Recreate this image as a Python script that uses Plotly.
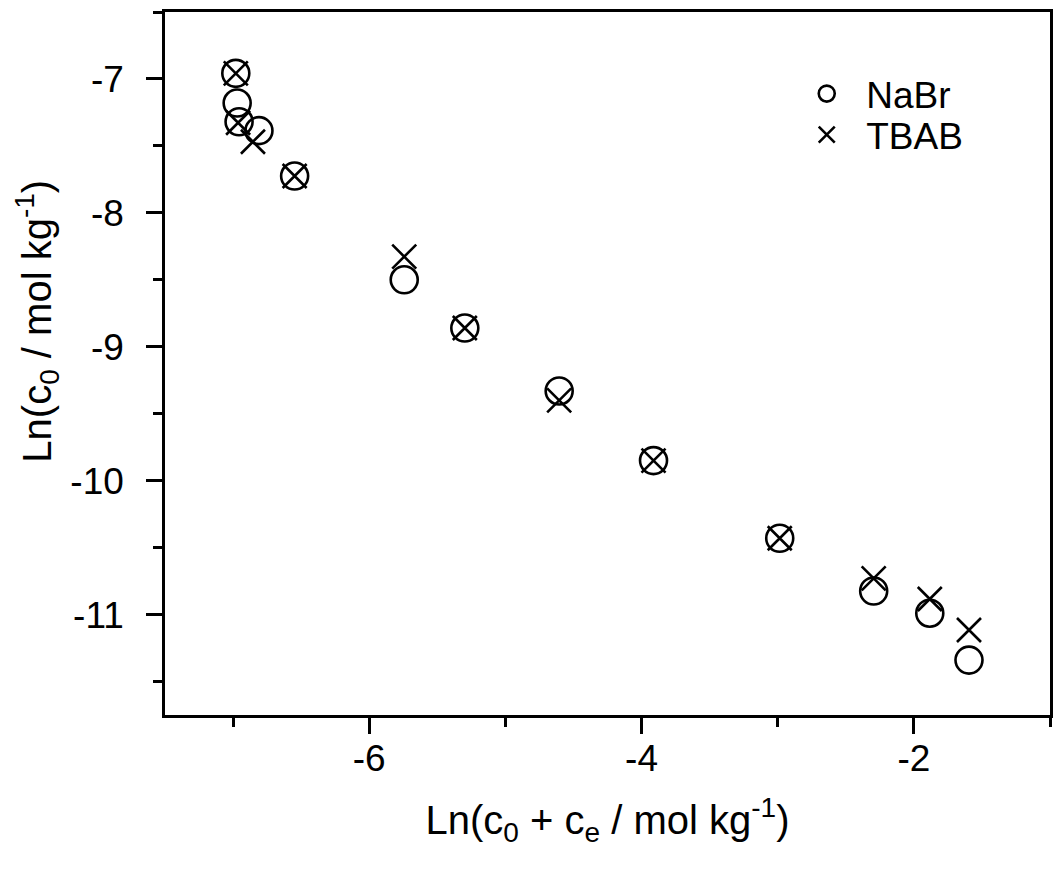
import plotly.graph_objects as go

# ---- data ----
nabr_x = [-6.98, -6.97, -6.956, -6.81, -6.548, -5.743, -5.298, -4.605, -3.912, -2.985, -2.295, -1.883, -1.595]
nabr_y = [-6.958, -7.18, -7.32, -7.386, -7.725, -8.50, -8.86, -9.33, -9.85, -10.43, -10.824, -10.99, -11.34]

tbab_x = [-6.98, -6.963, -6.854, -6.548, -5.743, -5.298, -4.605, -3.912, -2.985, -2.295, -1.883, -1.595]
tbab_y = [-6.958, -7.327, -7.469, -7.725, -8.327, -8.86, -9.40, -9.85, -10.43, -10.73, -10.884, -11.115]

x_tickvals = [-6, -4, -2]
x_ticktext = ["-6", "-4", "-2"]
y_tickvals = [-7, -8, -9, -10, -11]
y_ticktext = ["-7", "-8", "-9", "-10", "-11"]

x_title = "Ln(c<sub>0</sub> + c<sub>e</sub> / mol kg<sup>-1</sup>)"
y_title = "Ln(c<sub>0</sub> / mol kg<sup>-1</sup>)"

FONT = "Arial, Liberation Sans, sans-serif"

fig = go.Figure()
fig.add_trace(go.Scatter(
    x=nabr_x, y=nabr_y, mode="markers", name="NaBr", legend="legend",
    marker=dict(symbol="circle-open", size=27, color="black",
                line=dict(width=2.6, color="black")),
))
fig.add_trace(go.Scatter(
    x=tbab_x, y=tbab_y, mode="markers", name="TBAB", legend="legend2",
    marker=dict(symbol="x-thin-open", size=24, color="black",
                line=dict(width=2.6, color="black")),
))

axis_common = dict(
    showgrid=False, zeroline=False, showline=True, linecolor="black",
    linewidth=2.5, mirror=True, ticks="outside", tickwidth=2.5,
    tickcolor="black", ticklen=16,
    tickfont=dict(family=FONT, size=37, color="black"),
)

fig.update_xaxes(
    range=[-7.5, -1.0], tickmode="array", tickvals=x_tickvals, ticktext=x_ticktext,
    minor=dict(tickmode="linear", tick0=-7, dtick=1, ticks="outside", ticklen=9,
               tickwidth=2.5, tickcolor="black"),
    title=dict(text=x_title, font=dict(family=FONT, size=40, color="black"), standoff=28),
    ticklabelstandoff=-7,
    **axis_common,
)
fig.update_yaxes(
    range=[-11.75, -6.5], tickmode="array", tickvals=y_tickvals, ticktext=y_ticktext,
    minor=dict(tickmode="linear", tick0=-7, dtick=0.5, ticks="outside", ticklen=9,
               tickwidth=2.5, tickcolor="black"),
    ticklabelstandoff=15,
    **axis_common,
)

fig.add_annotation(
    text=y_title, textangle=-90, xref="paper", yref="paper",
    x=-0.145, y=0.5605, xanchor="center", yanchor="middle", showarrow=False,
    font=dict(family=FONT, size=40, color="black"),
)

leg_common = dict(xanchor="left", yanchor="top", bgcolor="rgba(0,0,0,0)",
                  borderwidth=0, font=dict(family=FONT, size=37, color="black"),
                  itemwidth=69)

fig.update_layout(
    width=1053, height=879,
    margin=dict(l=165, r=0, t=12, b=164),
    paper_bgcolor="white", plot_bgcolor="white",
    showlegend=True,
    legend=dict(x=0.7031, y=0.9274, **leg_common),
    legend2=dict(x=0.7031, y=0.869, **leg_common),
)

fig.write_html("out.html")
